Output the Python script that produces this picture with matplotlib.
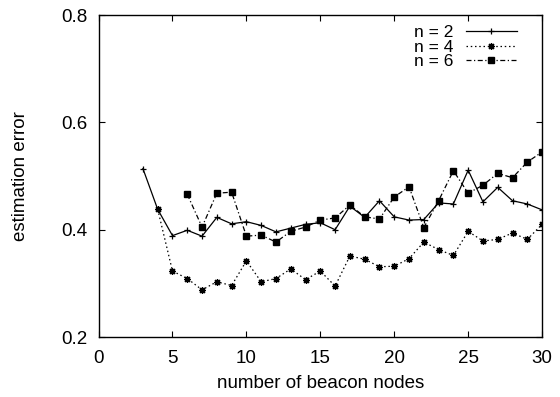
import matplotlib
matplotlib.use("Agg")
import matplotlib.pyplot as plt

plt.rcParams["font.family"] = ["Liberation Sans", "DejaVu Sans"]

# estimation error vs. number of beacon nodes, one series per n
beacons_n2 = list(range(3, 31))
err_n2 = [0.514, 0.438, 0.389, 0.399, 0.388, 0.423, 0.411, 0.415, 0.408,
          0.396, 0.403, 0.410, 0.413, 0.400, 0.444, 0.423, 0.454, 0.424,
          0.418, 0.419, 0.450, 0.448, 0.511, 0.452, 0.479, 0.454, 0.448,
          0.437]

beacons_n4 = list(range(4, 31))
err_n4 = [0.438, 0.323, 0.309, 0.288, 0.303, 0.296, 0.342, 0.303, 0.309,
          0.327, 0.307, 0.323, 0.295, 0.351, 0.345, 0.331, 0.332, 0.346,
          0.377, 0.363, 0.352, 0.397, 0.379, 0.382, 0.394, 0.382, 0.410]

beacons_n6 = list(range(6, 31))
err_n6 = [0.466, 0.405, 0.468, 0.470, 0.388, 0.390, 0.377, 0.397, 0.405,
          0.418, 0.422, 0.446, 0.424, 0.420, 0.461, 0.480, 0.404, 0.454,
          0.510, 0.468, 0.483, 0.505, 0.497, 0.526, 0.545]

x_ticks = [0, 5, 10, 15, 20, 25, 30]
y_ticks = [0.2, 0.4, 0.6, 0.8]

fig = plt.figure(figsize=(5.6, 3.97), dpi=100)
ax = fig.add_axes([0.176, 0.151, 0.792, 0.811])

ax.plot(beacons_n2, err_n2, color="black", lw=0.9, marker="+",
        markersize=5, markeredgewidth=0.9, label="n = 2")
ax.plot(beacons_n4, err_n4, color="black", lw=0.9, dashes=(1.2, 2.2),
        marker=(8, 2, 0), markersize=5, markeredgewidth=0.9, label="n = 4")
ax.plot(beacons_n6, err_n6, color="black", lw=0.9, dashes=(4, 2, 1, 2),
        marker="s", markersize=5, label="n = 6")

ax.set_xlim(0, 30)
ax.set_ylim(0.2, 0.8)
ax.set_xticks(x_ticks)
ax.set_yticks(y_ticks)
ax.set_yticklabels([f"{v:.1f}" for v in y_ticks])
ax.tick_params(direction="in", length=4, width=0.8, top=True, right=True,
               labelsize=13.5)
ax.tick_params(axis="x", pad=9)
ax.tick_params(axis="y", pad=8)
for sp in ax.spines.values():
    sp.set_linewidth(1.0)

ax.set_xlabel("number of beacon nodes", fontsize=13.5, labelpad=6)
ax.set_ylabel("estimation error", fontsize=13.5, labelpad=23)

ax.legend(loc="upper right", frameon=False, markerfirst=False, fontsize=12.5,
          handlelength=2.9, handletextpad=0.75, labelspacing=-0.05,
          borderaxespad=0.0, bbox_to_anchor=(0.958, 0.99))

fig.savefig("out.png", dpi=100)
